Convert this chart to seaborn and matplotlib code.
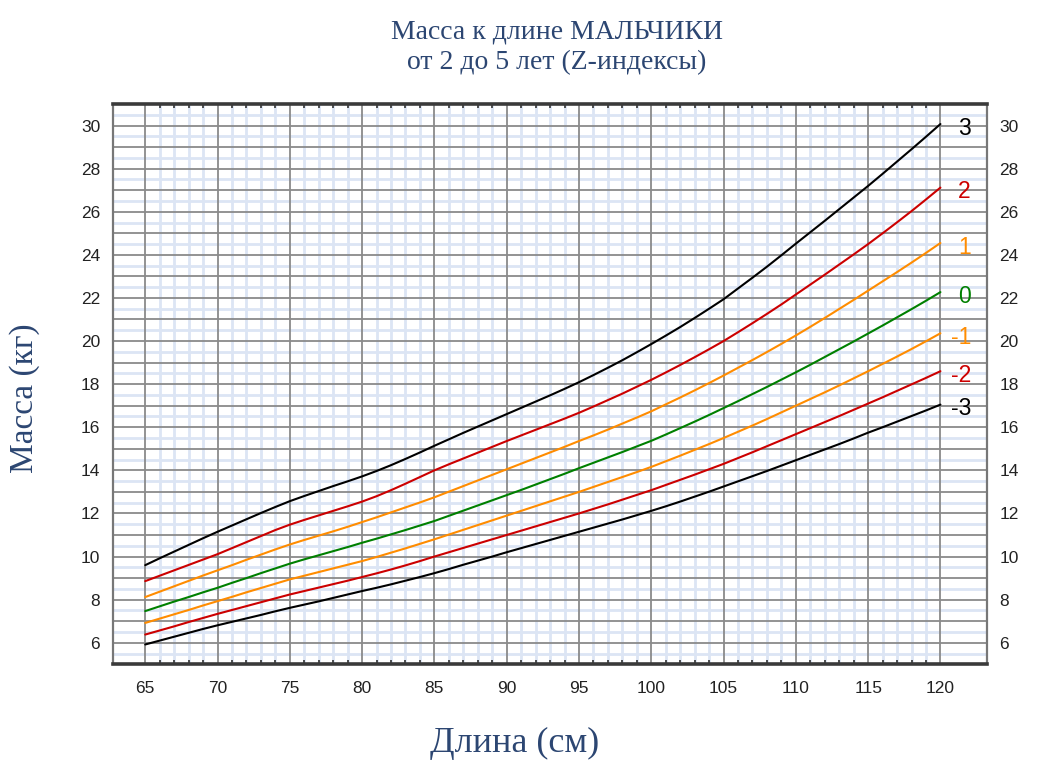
import numpy as np
import pandas as pd
import matplotlib
matplotlib.use("Agg")
import matplotlib.pyplot as plt
import seaborn as sns

# ---- data ----
length_cm = list(range(65, 121))

z_plus3 = [9.60, 9.92, 10.23, 10.54, 10.85, 11.15, 11.44, 11.73, 12.02, 12.30,
           12.57, 12.81, 13.04, 13.27, 13.49, 13.72, 13.97, 14.24, 14.53, 14.83,
           15.14, 15.44, 15.74, 16.03, 16.32, 16.61, 16.90, 17.19, 17.48, 17.78,
           18.09, 18.42, 18.76, 19.11, 19.48, 19.86, 20.25, 20.65, 21.07, 21.50,
           21.94, 22.44, 22.94, 23.45, 23.98, 24.52, 25.05, 25.58, 26.12, 26.66,
           27.20, 27.76, 28.33, 28.90, 29.48, 30.07]
z_plus2 = [8.86, 9.11, 9.36, 9.61, 9.86, 10.11, 10.39, 10.67, 10.95, 11.23,
           11.48, 11.70, 11.91, 12.12, 12.33, 12.55, 12.80, 13.08, 13.38, 13.69,
           14.00, 14.28, 14.55, 14.82, 15.09, 15.36, 15.62, 15.88, 16.14, 16.40,
           16.67, 16.96, 17.26, 17.56, 17.88, 18.20, 18.54, 18.89, 19.25, 19.62,
           20.00, 20.41, 20.83, 21.26, 21.70, 22.16, 22.62, 23.08, 23.55, 24.02,
           24.50, 25.00, 25.51, 26.03, 26.57, 27.12]
z_plus1 = [8.12, 8.37, 8.62, 8.87, 9.12, 9.36, 9.60, 9.85, 10.09, 10.33,
           10.56, 10.77, 10.97, 11.17, 11.38, 11.60, 11.82, 12.05, 12.28, 12.51,
           12.75, 13.01, 13.27, 13.53, 13.79, 14.05, 14.31, 14.57, 14.83, 15.09,
           15.36, 15.62, 15.89, 16.17, 16.45, 16.74, 17.06, 17.38, 17.71, 18.05,
           18.40, 18.76, 19.12, 19.49, 19.87, 20.26, 20.66, 21.07, 21.49, 21.91,
           22.34, 22.77, 23.20, 23.64, 24.09, 24.55]
z_zero = [7.47, 7.69, 7.91, 8.12, 8.34, 8.55, 8.78, 9.00, 9.23, 9.45,
          9.67, 9.87, 10.06, 10.25, 10.44, 10.64, 10.83, 11.03, 11.23, 11.44,
          11.65, 11.89, 12.13, 12.37, 12.61, 12.85, 13.09, 13.34, 13.59, 13.84,
          14.10, 14.35, 14.60, 14.85, 15.11, 15.37, 15.66, 15.96, 16.26, 16.57,
          16.89, 17.21, 17.54, 17.87, 18.21, 18.55, 18.90, 19.26, 19.62, 19.98,
          20.35, 20.72, 21.10, 21.48, 21.87, 22.27]
z_minus1 = [6.92, 7.12, 7.32, 7.52, 7.73, 7.93, 8.13, 8.34, 8.54, 8.74,
            8.94, 9.11, 9.28, 9.45, 9.62, 9.79, 9.98, 10.18, 10.38, 10.59,
            10.80, 11.02, 11.24, 11.46, 11.68, 11.90, 12.12, 12.34, 12.56, 12.78,
            13.00, 13.23, 13.46, 13.69, 13.92, 14.16, 14.42, 14.68, 14.95, 15.22,
            15.50, 15.79, 16.08, 16.38, 16.69, 17.00, 17.31, 17.62, 17.94, 18.27,
            18.60, 18.94, 19.28, 19.63, 19.99, 20.36]
z_minus2 = [6.38, 6.57, 6.76, 6.96, 7.15, 7.34, 7.52, 7.70, 7.88, 8.06,
            8.24, 8.40, 8.56, 8.72, 8.88, 9.05, 9.22, 9.40, 9.59, 9.79,
            10.00, 10.20, 10.40, 10.60, 10.80, 11.00, 11.20, 11.40, 11.60, 11.80,
            12.00, 12.21, 12.42, 12.64, 12.86, 13.08, 13.32, 13.56, 13.80, 14.05,
            14.30, 14.57, 14.84, 15.12, 15.40, 15.68, 15.96, 16.24, 16.52, 16.81,
            17.10, 17.39, 17.69, 17.99, 18.29, 18.60]
z_minus3 = [5.92, 6.10, 6.28, 6.46, 6.64, 6.81, 6.97, 7.13, 7.29, 7.46,
            7.62, 7.77, 7.92, 8.08, 8.24, 8.40, 8.55, 8.71, 8.88, 9.05,
            9.23, 9.42, 9.62, 9.81, 10.00, 10.20, 10.39, 10.58, 10.77, 10.96,
            11.15, 11.34, 11.53, 11.72, 11.92, 12.12, 12.33, 12.55, 12.78, 13.01,
            13.25, 13.49, 13.73, 13.97, 14.22, 14.47, 14.72, 14.97, 15.22, 15.48,
            15.75, 16.00, 16.26, 16.52, 16.78, 17.05]

z_names = ["3", "2", "1", "0", "-1", "-2", "-3"]
z_values = [z_plus3, z_plus2, z_plus1, z_zero, z_minus1, z_minus2, z_minus3]
z_colors = ["#000000", "#CC0000", "#FF8C00", "#008000", "#FF8C00", "#CC0000", "#000000"]

x_ticks = list(range(65, 121, 5))
y_ticks = list(range(6, 31, 2))

title_line1 = "Масса к длине МАЛЬЧИКИ"
title_line2 = "от 2 до 5 лет (Z-индексы)"
x_label = "Длина (см)"
y_label = "Масса (кг)"

# ---- build long-form table ----
df = pd.concat(
    [pd.DataFrame({"length": length_cm, "weight": vals, "z": name})
     for name, vals in zip(z_names, z_values)],
    ignore_index=True,
)
palette = dict(zip(z_names, z_colors))

sns.set_style("white")
plt.rcParams["font.family"] = ["Liberation Sans", "DejaVu Sans"]

fig = plt.figure(figsize=(10.41, 7.63), dpi=100)
ax = fig.add_axes([112.7 / 1041, 1 - 664.3 / 763, (986.7 - 112.7) / 1041, (664.3 - 104) / 763])

xmin, xmax = 62.75, 123.2
ymin, ymax = 5.0, 31.0
ax.set_xlim(xmin, xmax)
ax.set_ylim(ymin, ymax)

# grid: light minor lines then dark major lines
light = "#DCE5F4"
dark = "#8A8A8A"
minor_x = [v for v in range(66, 120) if v % 5 != 0]
ax.vlines(minor_x, ymin, ymax, colors=light, linewidth=2.0, zorder=0)
ax.hlines(np.arange(5.5, 31, 1.0), xmin, xmax, colors=light, linewidth=2.0, zorder=0)
ax.hlines(np.arange(6, 31, 1), xmin, xmax, colors=dark, linewidth=1.3, zorder=1)
ax.vlines(x_ticks, ymin, ymax, colors=dark, linewidth=1.3, zorder=1)

sns.lineplot(data=df, x="length", y="weight", hue="z", palette=palette,
             hue_order=z_names, estimator=None, sort=True, linewidth=1.5,
             legend=False, ax=ax, zorder=3)

for name, vals, col in zip(z_names, z_values, z_colors):
    ax.annotate(name, xy=(length_cm[-1], vals[-1]), xytext=(22, -3),
                textcoords="offset points", ha="right", va="center",
                fontsize=16.5, color=col, annotation_clip=False)

ax.set_xlabel("")
ax.set_ylabel("")
ax.set_xticks(x_ticks)
ax.set_xticklabels([str(v) for v in x_ticks])
ax.set_yticks(y_ticks)
ax.set_yticklabels([str(v) for v in y_ticks])
ax.set_xticks(range(65, 121), minor=True)
ax.tick_params(axis="x", which="major", length=0, pad=12, labelsize=12.5, colors="#222222")
ax.tick_params(axis="x", which="minor", direction="in", length=3, width=1.2,
               top=True, bottom=True, color="#333333")
ax.tick_params(axis="y", which="major", length=0, left=True, right=True,
               labelleft=True, labelright=True, labelsize=12.5, colors="#222222", pad=9)

for side in ["top", "bottom"]:
    ax.spines[side].set_visible(True)
    ax.spines[side].set_linewidth(2.6)
    ax.spines[side].set_color("#3A3A3A")
for side in ["left", "right"]:
    ax.spines[side].set_visible(True)
    ax.spines[side].set_linewidth(1.6)
    ax.spines[side].set_color("#777777")

navy = "#2C4672"
serif = ["Liberation Serif", "DejaVu Serif"]
fig.text(557 / 1041, 1 - 38.5 / 763, title_line1, ha="center", va="baseline",
         fontsize=20, color=navy, family=serif)
fig.text(557 / 1041, 1 - 69 / 763, title_line2, ha="center", va="baseline",
         fontsize=20, color=navy, family=serif)
fig.text(515 / 1041, 1 - 752.5 / 763, x_label, ha="center", va="baseline",
         fontsize=26, color=navy, family=serif)
fig.text(33 / 1041, 1 - 398 / 763, y_label, ha="center", va="baseline",
         rotation=90, rotation_mode="anchor", fontsize=24, color=navy, family=serif)

fig.savefig("out.png", dpi=100, facecolor="white")
